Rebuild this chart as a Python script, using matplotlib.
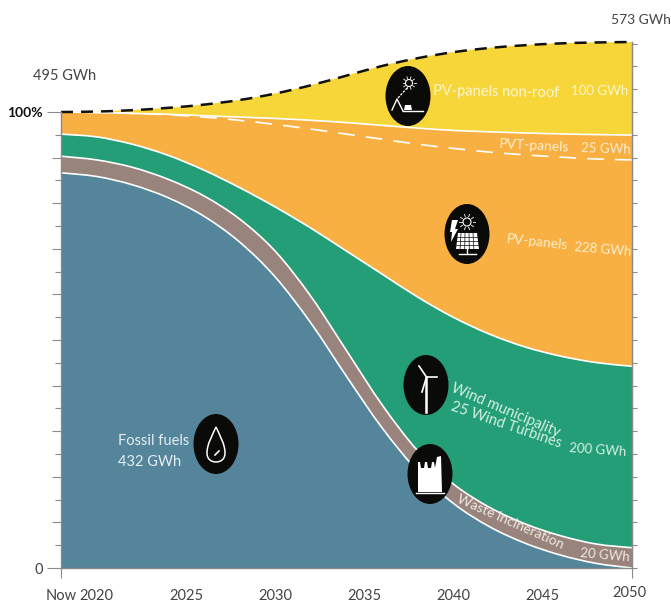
import numpy as np
import matplotlib
matplotlib.use('Agg')
import matplotlib.pyplot as plt
from matplotlib.patches import Ellipse, Polygon, PathPatch, Circle
from matplotlib.path import Path
from matplotlib.transforms import ScaledTranslation

plt.rcParams['font.family'] = ['Lato', 'Open Sans', 'DejaVu Sans']

years = np.arange(2018, 2051, 2)

# top edge of every band, cumulative GWh
fossil = [429, 425, 416, 402, 382, 354, 316, 266, 208, 152, 105, 70, 45, 27, 14, 5, 0]
waste = [447, 443, 435, 422, 404, 379, 344, 295, 236, 177, 127, 91, 66, 48, 35, 26, 22]
wind = [471, 468, 460, 448, 432, 413, 392, 369, 344, 319, 294, 272, 254, 240, 230, 223, 219]
pv = [495, 494.5, 493.5, 492, 489.5, 486, 481.5, 476.5, 471, 465.5, 460, 455.5, 451.5, 448.5, 446, 444, 443]
pvt = [495, 494.5, 493.5, 492.5, 491, 489.5, 488, 486, 483.5, 480.5, 477.5, 475, 473.5, 472.25, 471.25, 470.5, 470]
total = [495, 495.5, 497, 499.5, 503, 508, 515, 524, 534.5, 545, 553.5, 560, 564.5, 567.5, 569.5, 570.5, 571]
floor = [0] * len(years)

x_ticks = [2018, 2020, 2025, 2030, 2035, 2040, 2045, 2050]
x_labels = ['Now', '2020', '2025', '2030', '2035', '2040', '2045', '2050']


def smooth(xs, ys):
    # bezier control points through the read values
    n = len(xs)
    pts = list(zip(xs, ys))
    verts = [pts[0]]
    for i in range(n - 1):
        p0, p1, p2, p3 = pts[max(i - 1, 0)], pts[i], pts[i + 1], pts[min(i + 2, n - 1)]
        verts.append((p1[0] + (p2[0] - p0[0]) / 6, p1[1] + (p2[1] - p0[1]) / 6))
        verts.append((p2[0] - (p3[0] - p1[0]) / 6, p2[1] - (p3[1] - p1[1]) / 6))
        verts.append(p2)
    return verts


def curve_path(ys):
    v = smooth(years, ys)
    return Path(v, [Path.MOVETO] + [Path.CURVE4] * (len(v) - 1))


def band_path(low, high):
    up = smooth(years, high)
    down = smooth(years[::-1], low[::-1])
    v = up + down + [up[0]]
    c = [Path.MOVETO] + [Path.CURVE4] * (len(up) - 1) + [Path.LINETO] + [Path.CURVE4] * (len(down) - 1) + [Path.CLOSEPOLY]
    return Path(v, c)


fig = plt.figure(figsize=(6.71, 6.05), dpi=100)
ax = fig.add_axes([61 / 671, 37 / 605, 571 / 671, 526 / 605])
ax.set_xlim(2018, 2050)
ax.set_ylim(0, 571)

grey = '#8a8a8a'
bands = [(floor, fossil, '#54859a'), (fossil, waste, '#98847c'), (waste, wind, '#239e76'),
         (wind, pvt, '#f8b042'), (pvt, total, '#f6d639')]
for low, high, col in bands:
    ax.add_patch(PathPatch(band_path(low, high), fc=col, ec=col, lw=0.2))

for line in (fossil, waste, wind, pvt):
    ax.add_patch(PathPatch(curve_path(line), fc='none', ec='white', lw=1.2))
ax.add_patch(PathPatch(curve_path(pv), fc='none', ec='white', lw=1.2, linestyle=(0, (10, 6.7))))
ax.add_patch(PathPatch(curve_path(total), fc='none', ec='#111111', lw=1.8, linestyle=(0, (4.8, 3.2)), clip_on=False))

ax.spines['top'].set_visible(False)
for s in ('left', 'right', 'bottom'):
    ax.spines[s].set_color(grey)
    ax.spines[s].set_linewidth(1.0)
ax.spines['left'].set_bounds(0, 495)

ax.set_xticks(x_ticks)
ax.set_xticklabels(x_labels, fontsize=10.5, color='#444444')
ax.tick_params(axis='x', length=7, color=grey, pad=8)
for t in ax.xaxis.get_major_ticks()[1:-1]:
    t.tick1line.set_markersize(0)
last = ax.get_xticklabels()[-1]
last.set_transform(last.get_transform() + ScaledTranslation(-3 / 100, 3 / 100, fig.dpi_scale_trans))

step = 495 / 20
ax.set_yticks([step * i for i in range(21)])
ax.set_yticklabels(['0'] + [''] * 19 + ['100%'], fontsize=10.5, color='#444444')
ax.tick_params(axis='y', color=grey, length=10, pad=3)
for i, t in enumerate(ax.yaxis.get_major_ticks()):
    t.tick1line.set_markersize(10 if i in (0, 20) else (6.5 if i % 2 == 0 else 4.3))
top_label = ax.get_yticklabels()[-1]
top_label.set_fontweight('bold')
top_label.set_fontsize(10)
top_label.set_color('#111111')

right = ax.secondary_yaxis('right')
right.set_yticks([step * i for i in range(24)])
right.set_yticklabels([])
right.tick_params(color=grey)
right.spines['right'].set_color(grey)
for i, t in enumerate(right.yaxis.get_major_ticks()):
    t.tick1line.set_markersize(10 if i in (0, 16, 20) else (6.5 if i % 2 == 1 else 3.6))

# overlay in picture pixels for labels and icons
px = fig.add_axes([0, 0, 1, 1])
px.set_xlim(0, 671)
px.set_ylim(605, 0)
px.axis('off')


def label(x, y, s, size=10.5, rot=0, color='white', ha='left'):
    px.text(x, y, s, fontsize=size, rotation=rot, color=color, ha=ha, va='center',
            rotation_mode='anchor')


label(33, 76, '495 GWh', 10.5, color='#444444')
label(611, 20, '573 GWh', 10, color='#444444')

label(118, 441, 'Fossil fuels', 10.5, color='#e4eef2')
label(118, 462, '432 GWh', 10.5, color='#e4eef2')
label(433, 91, 'PV-panels non-roof', 10.5, rot=-1, color='#fdf6cf')
label(571, 91, '100 GWh', 9.5, color='#fdf6cf')
label(499, 144, 'PVT-panels', 10, rot=-3, color='#fdeecf')
label(581, 148, '25 GWh', 9.5, rot=-2, color='#fdeecf')
label(506, 239, 'PV-panels', 10, rot=-6, color='#fdeecf')
label(574, 247, '228 GWh', 9.5, rot=-5, color='#fdeecf')
label(452, 388, 'Wind municipality', 10.5, rot=-23, color='#d6f0e6')
label(451, 406, '25 Wind Turbines', 10.5, rot=-19, color='#d6f0e6')
label(569, 448, '200 GWh', 9.5, rot=-4, color='#d6f0e6')
label(458, 498, 'Waste incineration', 10, rot=-24, color='#efe8e4')
label(580, 553, '20 GWh', 9.5, rot=-5, color='#efe8e4')

for cx, cy in [(216, 444), (426, 385), (430, 474), (467, 234), (408, 96)]:
    px.add_patch(Ellipse((cx, cy), 45, 60, color='#0a0a08', lw=0))


def rays(cx, cy, r0, r1, n=10):
    for a in np.linspace(0, 2 * np.pi, n, endpoint=False):
        px.plot([cx + r0 * np.cos(a), cx + r1 * np.cos(a)],
                [cy + r0 * np.sin(a), cy + r1 * np.sin(a)], color='white', lw=0.6)


# drop
drop = Path([(216, 427), (212, 436), (207, 444), (207, 453), (207, 459), (211, 462), (216, 462),
             (221, 462), (225, 459), (225, 453), (225, 444), (220, 436), (216, 427)],
            [Path.MOVETO] + [Path.CURVE4] * 12)
px.add_patch(PathPatch(drop, fc='none', ec='white', lw=1.1))
px.plot([215, 219], [455, 451], color='white', lw=1.2)

# wind turbine
px.plot([426, 426], [378, 412], color='white', lw=1.8)
px.plot([426.5, 419], [377, 366], color='white', lw=1.2)
px.plot([426.5, 437], [377, 377], color='white', lw=1.2)
px.plot([426.5, 422], [377, 392], color='white', lw=1.2)

# factory
px.add_patch(Polygon([(418, 492), (418, 462), (420, 462), (421, 468), (424, 468), (425, 462), (427, 462),
                      (428, 468), (431, 468), (432, 462), (434, 462), (435, 468), (437, 457), (441, 456),
                      (442, 492)], color='white', lw=0))
px.plot([416, 444], [493, 493], color='white', lw=1)

# pv panel
px.add_patch(Circle((467, 222), 4, fc='none', ec='white', lw=0.8))
rays(467, 222, 5.5, 8)
px.add_patch(Polygon([(458, 233), (477, 233), (479, 249), (456, 249)], color='white', lw=0))
for gx in (461, 465, 469, 473):
    px.plot([gx, gx + (gx - 467) * 0.15], [233, 249], color='#0a0a08', lw=0.5)
for gy in (237, 241, 245):
    px.plot([456, 479], [gy, gy], color='#0a0a08', lw=0.5)
px.plot([467, 467], [249, 253], color='white', lw=1)
px.plot([459, 476], [253.5, 253.5], color='white', lw=1)
px.add_patch(Polygon([(452, 220), (458, 220), (455, 229), (458, 229), (451, 242), (452, 232), (450, 232)],
                     color='white', lw=0))

# non-roof panel
px.add_patch(Circle((409, 83), 3.5, fc='none', ec='white', lw=0.8))
rays(409, 83, 4.5, 6.5)
px.plot([392, 397, 403], [110, 99, 111], color='white', lw=1)
px.plot([403, 423], [110.5, 110.5], color='white', lw=1)
px.plot([398, 407], [98, 88], color='white', lw=0.9, dashes=(2, 1))
px.add_patch(Polygon([(404, 110), (405, 105), (411, 105), (412, 110)], color='white', lw=0))

fig.savefig('out.png', dpi=100)
